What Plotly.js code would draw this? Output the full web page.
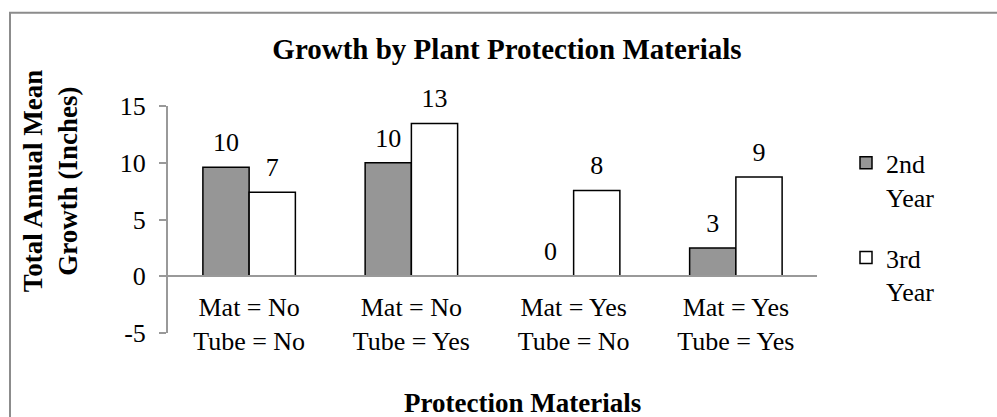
<!DOCTYPE html>
<html>
<head>
<meta charset="utf-8">
<script src="https://cdn.plot.ly/plotly-3.0.1.min.js"></script>
<style>html,body{margin:0;padding:0;background:#fff;}#chart{width:997px;height:417px;}</style>
</head>
<body>
<div id="chart"></div>
<script>
const categories = ["Mat = No<br>Tube = No", "Mat = No<br>Tube = Yes", "Mat = Yes<br>Tube = No", "Mat = Yes<br>Tube = Yes"];
const year2Values = [9.6, 10.0, 0.03, 2.5];
const year3Values = [7.4, 13.45, 7.55, 8.75];
const seriesNames = ["2nd<br>Year", "3rd<br>Year"];
const yTicks = [-5, 0, 5, 10, 15];

const FONT = "Liberation Serif, Times New Roman, serif";
const FS = 26;
const L = 168, R = 180, T = 105.5, B = 84;
const W = 997, H = 417;
const pw = W - L - R, ph = H - T - B;
const px = v => (v - L) / pw;
const py = v => (H - B - v) / ph;

function barTrace(vals, name, fill, grp) {
  return {type: "bar", x: categories, y: vals, name: name, legendgroup: grp, offsetgroup: grp,
    marker: {color: fill, line: {color: "#000", width: 1.5}}, hoverinfo: "none"};
}
function labelTrace(vals, grp) {
  return {type: "scatter", mode: "markers+text", x: categories, y: vals, legendgroup: grp,
    showlegend: false, offsetgroup: grp, orientation: "v",
    marker: {size: 14, color: "rgba(0,0,0,0)"},
    texttemplate: "%{y:.0f}", textposition: "top center", cliponaxis: false,
    textfont: {family: FONT, size: FS, color: "#000"}, hoverinfo: "none"};
}

const traces = [
  barTrace(year2Values, seriesNames[0], "#969696", "a"),
  barTrace(year3Values, seriesNames[1], "#ffffff", "b"),
  labelTrace(year2Values, "a"),
  labelTrace(year3Values, "b")
];

const layout = {
  width: W, height: H,
  margin: {l: L, r: R, t: T, b: B, autoexpand: false},
  paper_bgcolor: "#fff", plot_bgcolor: "#fff",
  font: {family: FONT, size: FS, color: "#000"},
  title: {text: "<b>Growth by Plant Protection Materials</b>", font: {family: FONT, size: 29, color: "#000"},
          x: 507 / W, xref: "container", xanchor: "center", y: 1 - 49 / H, yref: "container", yanchor: "middle"},
  bargap: 0.43, bargroupgap: 0, barmode: "group",
  scattermode: "group", scattergap: 0.43,
  xaxis: {
    type: "category", anchor: "free", position: 0.25,
    showline: true, linecolor: "#999", linewidth: 2,
    ticks: "", showgrid: false, zeroline: false,
    tickfont: {family: FONT, size: FS, color: "#000"},
    ticklabelstandoff: 8,
    automargin: false
  },
  yaxis: {
    range: [-5, 15], tickvals: yTicks, ticktext: yTicks.map(String),
    showline: true, linecolor: "#999", linewidth: 2,
    ticks: "outside", ticklen: 7, tickcolor: "#999", tickwidth: 2,
    showgrid: false, zeroline: true, zerolinecolor: "#999", zerolinewidth: 2,
    tickfont: {family: FONT, size: FS, color: "#000"},
    ticklabelstandoff: 8,
    automargin: false
  },
  annotations: [
    {text: "<b>Total Annual Mean<br>Growth (Inches)</b>", textangle: -90, showarrow: false,
     xref: "paper", yref: "paper", x: px(50), y: py(181), xanchor: "center", yanchor: "middle",
     font: {family: FONT, size: 27, color: "#000"}},
    {text: "<b>Protection Materials</b>", showarrow: false,
     xref: "paper", yref: "paper", x: px(522), y: py(403), xanchor: "center", yanchor: "middle",
     font: {family: FONT, size: 27, color: "#000"}}
  ],
  showlegend: true,
  legend: {x: px(846), xanchor: "left", y: py(139), yanchor: "top", valign: "top",
           tracegroupgap: 24, traceorder: "grouped",
           font: {family: FONT, size: FS, color: "#000"}, bgcolor: "rgba(0,0,0,0)",
           itemwidth: 30},
  shapes: [
    {type: "rect", xref: "paper", yref: "paper", x0: px(10), x1: px(1005), y0: py(425), y1: py(12),
     line: {color: "#8c8c8c", width: 2}, fillcolor: "rgba(0,0,0,0)", layer: "below"}
  ]
};

Plotly.newPlot("chart", traces, layout, {displayModeBar: false, staticPlot: true});
</script>
</body>
</html>
